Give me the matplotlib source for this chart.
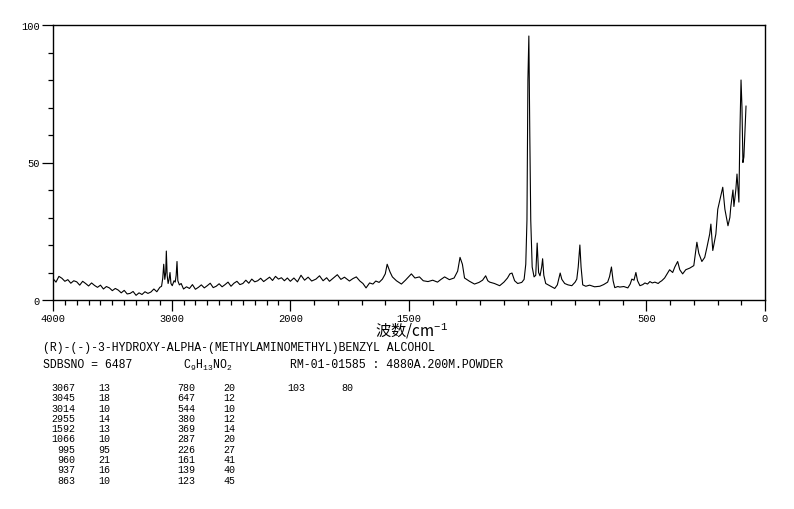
import numpy as np
import matplotlib
matplotlib.use("Agg")
import matplotlib.pyplot as plt

# Espectro Raman (numero de onda cm-1, intensidad relativa)
wn_high = [4000, 3975, 3950, 3925, 3900, 3875, 3850, 3825, 3800, 3775,
           3750, 3725, 3700, 3675, 3650, 3625, 3600, 3575, 3550, 3525,
           3500, 3475, 3450, 3425, 3400, 3375, 3350, 3325, 3300, 3275,
           3250, 3225, 3200, 3175, 3150, 3125, 3100, 3085, 3075, 3067,
           3058, 3050, 3045, 3038, 3030, 3022, 3014, 3006, 2995, 2980,
           2970, 2962, 2955, 2948, 2935, 2920, 2900, 2875, 2850, 2825,
           2800, 2775, 2750, 2725, 2700, 2675, 2650, 2625, 2600, 2575,
           2550, 2525, 2500, 2475, 2450, 2425, 2400, 2375, 2350, 2325,
           2300, 2275, 2250, 2225, 2200, 2175, 2150, 2125, 2100, 2075,
           2050, 2025, 2000]
int_high = [7.8, 6.5, 8.6, 7.9, 6.8, 7.4, 6.1, 7.0, 6.6, 5.4,
            6.8, 6.0, 5.1, 6.2, 5.3, 4.6, 5.4, 4.0, 4.9, 4.4,
            3.4, 4.2, 3.6, 2.6, 3.5, 2.2, 2.4, 3.1, 1.7, 2.6,
            2.0, 3.0, 2.4, 2.9, 4.0, 3.0, 4.6, 5.0, 8.0, 13.0,
            7.5, 10.0, 17.8, 9.0, 6.0, 7.5, 10.0, 6.0, 5.2, 7.0,
            6.5, 9.0, 14.0, 7.0, 5.5, 6.0, 4.0, 4.8, 4.2, 5.6,
            3.9, 4.6, 5.5, 4.4, 5.2, 6.1, 4.5, 5.0, 5.9, 4.8,
            5.6, 6.5, 5.0, 6.1, 6.8, 5.6, 6.0, 7.2, 6.1, 7.6,
            6.6, 7.0, 7.9, 6.7, 7.5, 8.3, 7.1, 8.6, 7.6, 8.1,
            7.0, 8.0, 6.8]

wn_mid = [1985, 1970, 1955, 1940, 1925, 1910, 1892, 1877, 1862, 1847,
          1835, 1820, 1802, 1787, 1772, 1751, 1736, 1722, 1707, 1694,
          1681, 1666, 1652, 1640, 1626, 1612, 1600, 1592, 1580, 1570,
          1553, 1532, 1515, 1500, 1490, 1475, 1456, 1440, 1420, 1400,
          1380, 1365, 1350, 1330, 1310, 1295, 1285, 1275, 1266, 1245,
          1224, 1205, 1190, 1177, 1168, 1160, 1140, 1118, 1100, 1085,
          1075, 1066, 1055, 1042, 1025, 1015, 1008, 1003, 999, 995,
          991, 987, 981, 973, 966, 960, 954, 948, 941, 937,
          932, 924, 907, 886, 875, 868, 863, 856, 844, 830,
          814, 800, 793, 787, 780, 775, 768, 755, 739, 718,
          696, 680, 663, 655, 647, 640, 633, 620, 612, 595,
          578, 568, 561, 552, 544, 537, 527, 515, 506, 495,
          485, 475, 464, 450, 444, 435]
int_mid = [8.0, 6.6, 9.0, 7.2, 8.3, 6.9, 7.6, 8.8, 7.0, 8.1,
           6.8, 7.9, 9.2, 7.5, 8.3, 6.9, 7.8, 8.4, 6.9, 6.0,
           4.4, 6.2, 5.8, 6.9, 6.4, 7.6, 9.5, 13.0, 10.2, 8.4,
           7.0, 5.8, 7.2, 8.6, 9.5, 8.0, 8.4, 7.0, 6.7, 7.2,
           6.5, 7.5, 8.4, 7.4, 8.0, 10.5, 15.5, 13.0, 8.0, 6.8,
           5.8, 6.4, 7.2, 8.8, 7.0, 6.5, 6.0, 5.2, 6.5, 8.0,
           9.5, 9.8, 7.0, 6.0, 6.4, 7.5, 13.0, 29.0, 80.0, 96.0,
           60.0, 29.0, 12.0, 8.4, 9.0, 20.7, 10.0, 8.8, 12.0, 15.0,
           9.0, 6.0, 5.2, 4.2, 5.5, 8.0, 9.8, 7.5, 6.0, 5.5,
           5.2, 6.5, 7.6, 12.0, 20.0, 12.0, 5.5, 5.0, 5.4, 4.8,
           5.0, 5.6, 6.5, 8.5, 12.0, 7.0, 4.5, 4.9, 4.7, 4.9,
           4.4, 5.8, 7.6, 7.2, 10.0, 7.0, 5.2, 5.6, 6.2, 5.8,
           6.7, 6.2, 6.5, 6.0, 6.5, 7.0]

wn_low = [423, 402, 389, 380, 368, 359, 347, 334, 317, 300,
          287, 279, 266, 254, 245, 233, 228, 220, 207, 199,
          186, 178, 169, 156, 148, 144, 135, 131, 123, 118,
          110, 106, 101, 97, 93, 89, 80]
int_low = [8.0, 11.0, 10.0, 12.0, 14.0, 11.0, 9.5, 11.0, 11.6, 12.5,
           21.0, 17.0, 14.0, 15.5, 19.0, 24.0, 27.6, 18.0, 24.0, 33.0,
           38.0, 41.0, 33.0, 27.0, 30.0, 34.0, 40.0, 34.0, 40.0, 45.8,
           35.6, 60.0, 80.0, 70.0, 50.0, 52.0, 70.5]

# Tabla de picos
peak_wn = [3067, 3045, 3014, 2955, 1592, 1066, 995, 960, 937, 863,
           780, 647, 544, 380, 369, 287, 226, 161, 139, 123,
           103]
peak_int = [13, 18, 10, 14, 13, 10, 95, 21, 16, 10,
            20, 12, 10, 12, 14, 20, 27, 41, 40, 45,
            80]

title = "(R)-(-)-3-HYDROXY-ALPHA-(METHYLAMINOMETHYL)BENZYL ALCOHOL"
sdbs = "SDBSNO = 6487"
formula = "C$_9$H$_{13}$NO$_2$"
sample = "RM-01-01585 : 4880A.200M.POWDER"

plt.rcParams['font.family'] = ['Liberation Mono', 'DejaVu Sans']
plt.rcParams['mathtext.fontset'] = 'custom'
plt.rcParams['mathtext.rm'] = 'Liberation Mono'
plt.rcParams['mathtext.it'] = 'Liberation Mono'

wn = np.array(wn_high + wn_mid + wn_low, dtype=float)
inten = np.array(int_high + int_mid + int_low, dtype=float)


# eje x comprimido por encima de 2000 cm-1
def fwd(x):
    x = np.asarray(x, dtype=float)
    return np.where(x <= 2000, x, 2000 + (x - 2000) / 2)


def inv(u):
    u = np.asarray(u, dtype=float)
    return np.where(u <= 2000, u, 2000 + (u - 2000) * 2)


W, H = 794, 510
fig = plt.figure(figsize=(W / 100, H / 100), dpi=100)
ax = fig.add_axes([53 / W, 1 - 301 / H, (765 - 53) / W, (301 - 26) / H])
ax.set_xscale('function', functions=(fwd, inv))
ax.plot(wn, inten, color='black', lw=0.8)
ax.set_xlim(4000, 0)
ax.set_ylim(0, 100)

ax.set_xticks([4000, 3000, 2000, 1500, 500, 0])
ax.set_xticklabels(['4000', '3000', '2000', '1500', '500', '0'])
ax.set_xticks(np.arange(0, 4001, 100), minor=True)
ax.set_yticks([0, 50, 100])
ax.set_yticks(np.arange(0, 101, 10), minor=True)
ax.tick_params(which='major', length=8, width=0.9, labelsize=7.5, pad=1.5)
ax.tick_params(which='minor', length=3.5, width=0.9)
for s in ax.spines.values():
    s.set_linewidth(1.0)

fig.text(411 / W, 1 - 335 / H, "波数/cm$^{-1}$", ha='center', va='baseline',
         family=['Noto Sans CJK SC', 'DejaVu Sans'], fontsize=11)


def ftext(x, y, s, **kw):
    fig.text(x / W, 1 - y / H, s, va='center', **kw)


ftext(43, 348, title, fontsize=8.3)
ftext(43, 365, sdbs, fontsize=8.3)
ftext(183, 365, formula, fontsize=8.3)
ftext(290, 365, sample, fontsize=8.3)

# tabla de picos en columnas de 10
col_x = [(75, 110), (195, 235), (305, 353)]
for k, (w, i) in enumerate(zip(peak_wn, peak_int)):
    c, r = divmod(k, 10)
    y = 388 + r * 10.3
    ftext(col_x[c][0], y, str(w), fontsize=7.2, ha='right')
    ftext(col_x[c][1], y, str(i), fontsize=7.2, ha='right')

fig.savefig('out.png', dpi=100)
